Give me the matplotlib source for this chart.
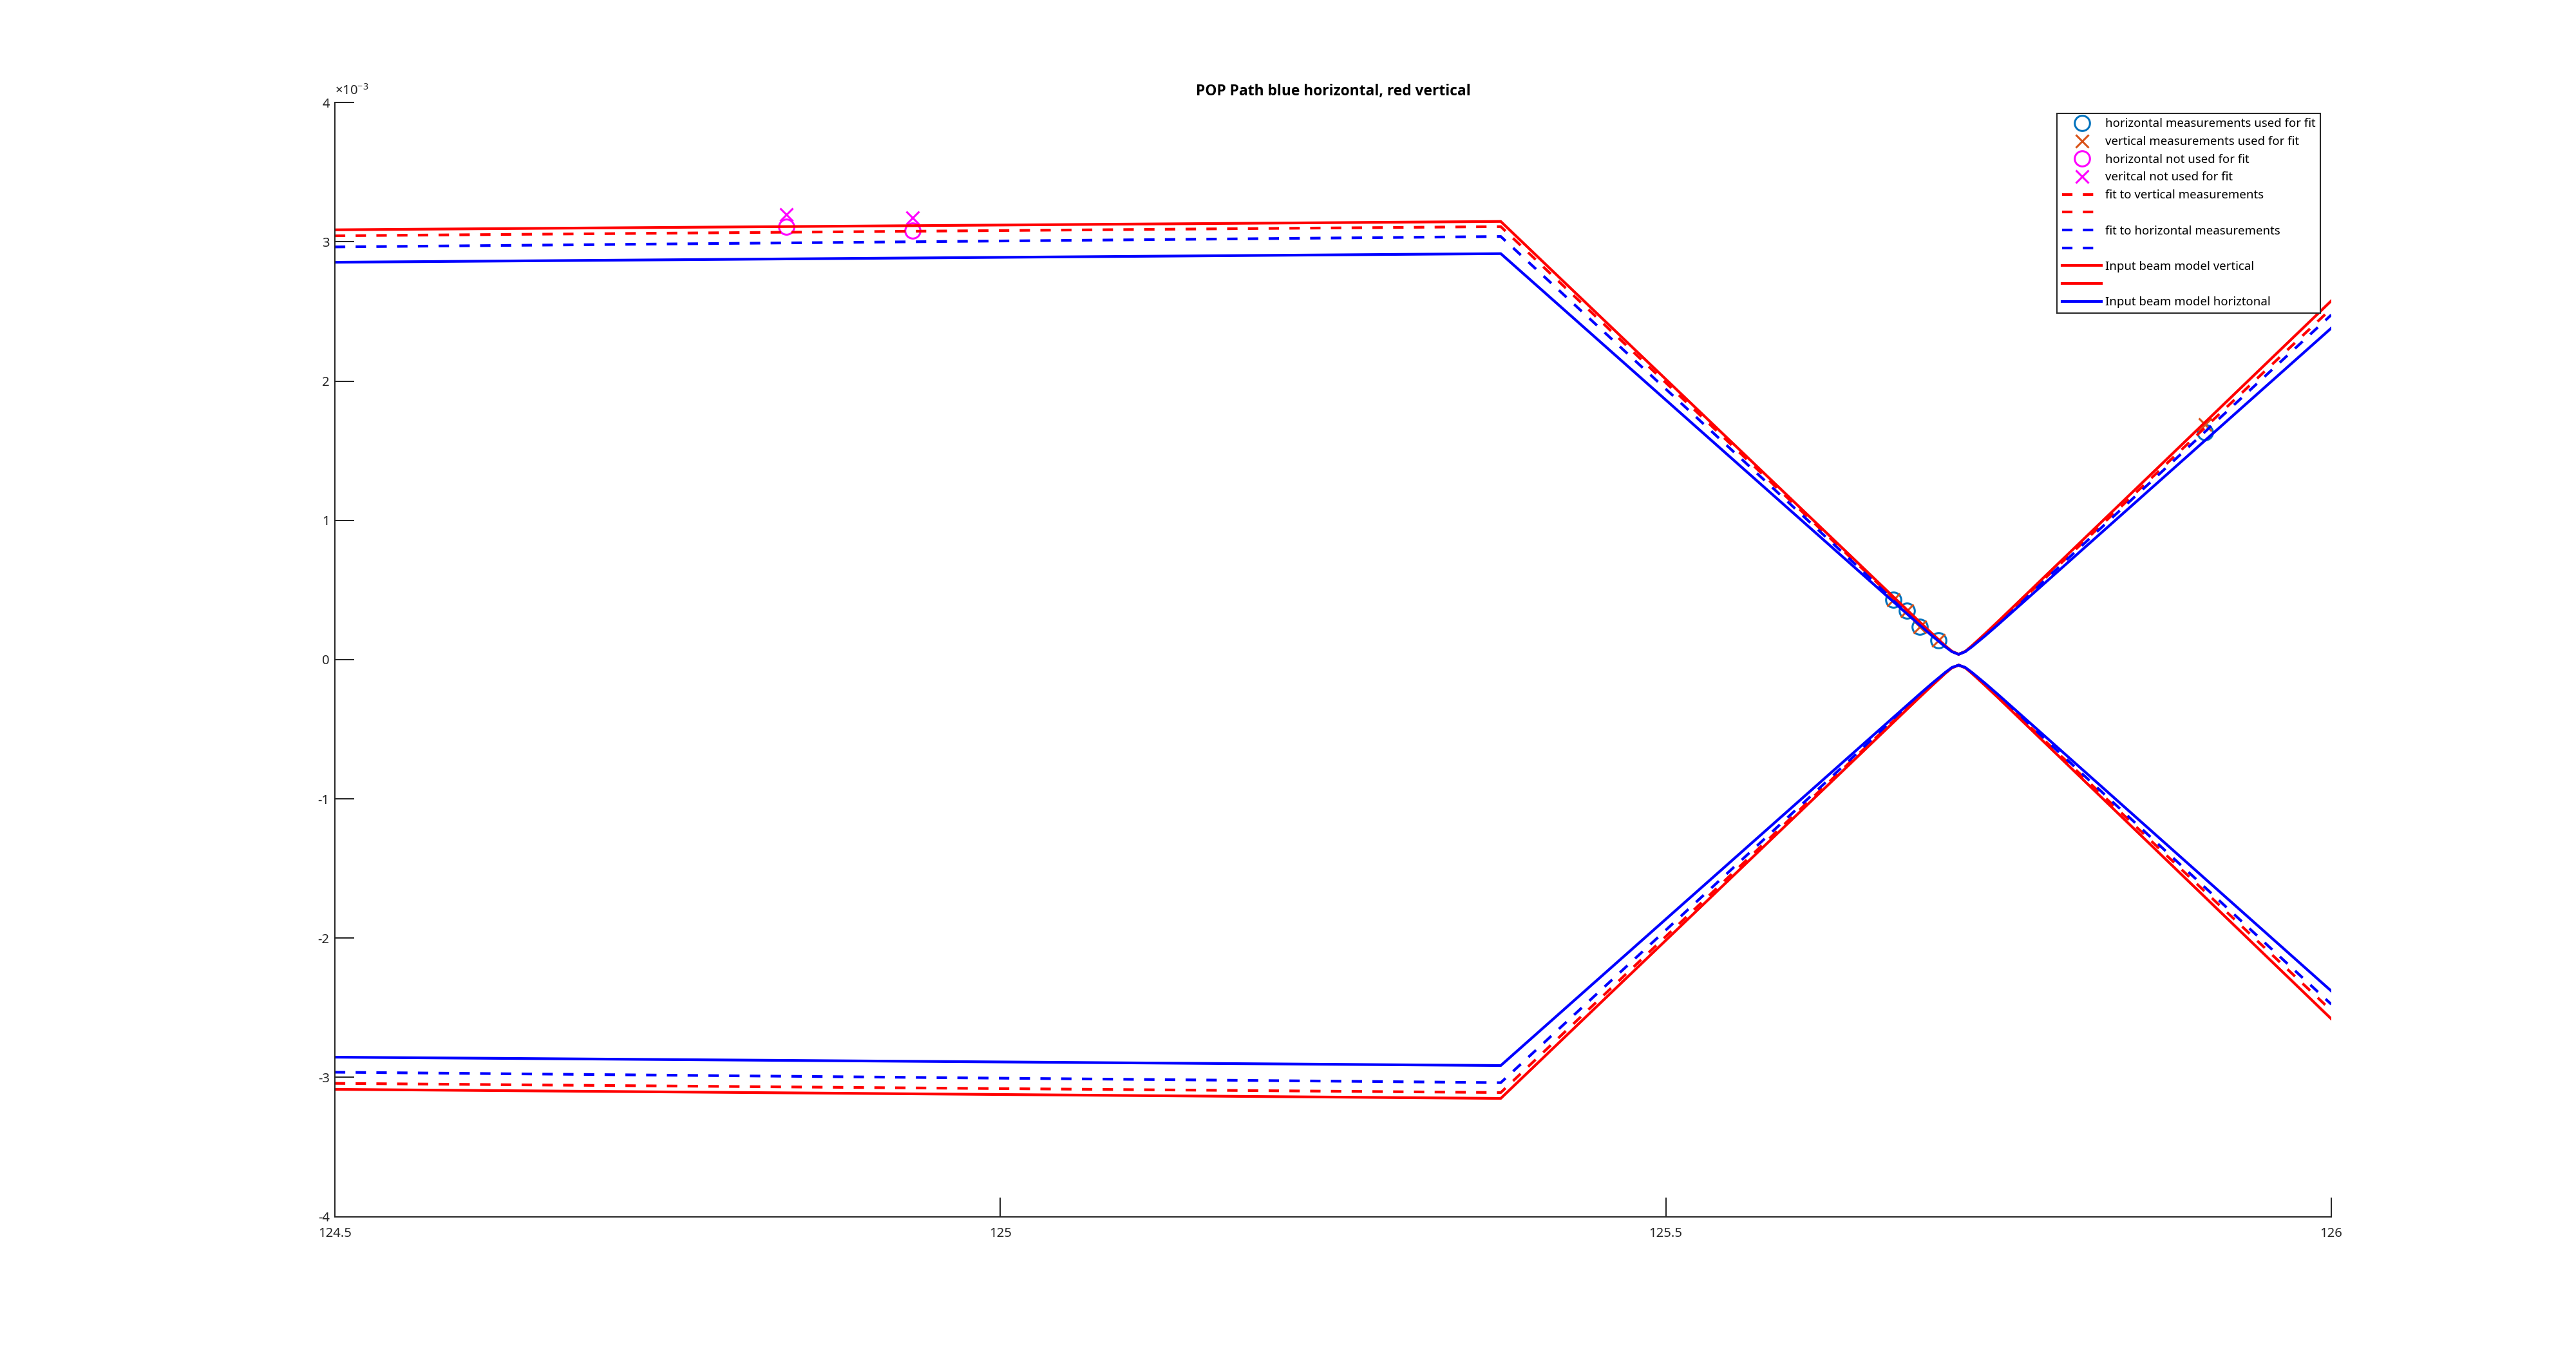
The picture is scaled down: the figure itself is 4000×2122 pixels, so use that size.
import matplotlib
matplotlib.use("Agg")
import matplotlib.pyplot as plt

plt.rcParams['font.family'] = ['Noto Sans', 'DejaVu Sans']
plt.rcParams['mathtext.fontset'] = 'custom'
plt.rcParams['mathtext.rm'] = 'Noto Sans'
plt.rcParams['lines.scale_dashes'] = False

# ---------------------------------------------------------------
# data (y values in units of 1e-3)
# ---------------------------------------------------------------
z = [124.5, 125.376, 125.69, 125.70, 125.71, 125.715, 125.72,
     125.725, 125.73, 125.74, 125.75, 126.0]

fit_vert_up = [3.043, 3.109, 0.270, 0.182, 0.097, 0.0585, 0.038,
               0.0585, 0.097, 0.182, 0.270, 2.520]
fit_vert_lo = [-3.043, -3.109, -0.270, -0.182, -0.097, -0.0585, -0.040,
               -0.0585, -0.097, -0.182, -0.270, -2.520]
fit_hor_up = [2.963, 3.038, 0.264, 0.178, 0.095, 0.0578, 0.038,
              0.0578, 0.095, 0.178, 0.264, 2.475]
fit_hor_lo = [-2.963, -3.038, -0.264, -0.178, -0.095, -0.0578, -0.040,
              -0.0578, -0.095, -0.178, -0.264, -2.475]
model_vert_up = [3.086, 3.146, 0.277, 0.187, 0.099, 0.0594, 0.038,
                 0.0594, 0.099, 0.187, 0.277, 2.576]
model_vert_lo = [-3.086, -3.151, -0.277, -0.187, -0.099, -0.0594, -0.040,
                 -0.0594, -0.099, -0.187, -0.277, -2.580]
model_hor_up = [2.853, 2.915, 0.254, 0.171, 0.092, 0.0565, 0.038,
                0.0565, 0.092, 0.171, 0.254, 2.380]
model_hor_lo = [-2.855, -2.915, -0.254, -0.171, -0.092, -0.0565, -0.040,
                -0.0565, -0.092, -0.171, -0.254, -2.380]

# measurements
hor_used_z = [125.671, 125.681, 125.691, 125.705, 125.905]
hor_used_w = [0.430, 0.351, 0.236, 0.139, 1.632]
vert_used_z = [125.671, 125.681, 125.691, 125.705, 125.905]
vert_used_w = [0.430, 0.351, 0.236, 0.139, 1.688]
hor_unused_z = [124.839, 124.934]
hor_unused_w = [3.109, 3.081]
vert_unused_z = [124.839, 124.934]
vert_unused_w = [3.197, 3.174]

# ---------------------------------------------------------------
# figure
# ---------------------------------------------------------------
fig = plt.figure(figsize=(20, 10.61), dpi=200, facecolor='white')
ax = fig.add_axes([0.13, 0.11, 0.775, 0.815])

c_blue_m = '#0072BD'
c_orange = '#D95319'
c_mag = '#FF00FF'

h1, = ax.plot(hor_used_z, hor_used_w, 'o', ms=8.5, mfc='none', mec=c_blue_m, mew=1.1, zorder=1)
h2, = ax.plot(vert_used_z, vert_used_w, 'x', ms=7.5, color=c_orange, mew=1.1, zorder=1)
h3, = ax.plot(hor_unused_z, hor_unused_w, 'o', ms=8.5, mfc='none', mec=c_mag, mew=1.1, zorder=1)
h4, = ax.plot(vert_unused_z, vert_unused_w, 'x', ms=7.5, color=c_mag, mew=1.1, zorder=1)

lw = 1.5
dash = (5.8, 5.8)
h5, = ax.plot(z, fit_vert_up, color='#FF0000', lw=lw, dashes=dash)
h6, = ax.plot(z, fit_vert_lo, color='#FF0000', lw=lw, dashes=dash)
h7, = ax.plot(z, fit_hor_up, color='#0000FF', lw=lw, dashes=dash)
h8, = ax.plot(z, fit_hor_lo, color='#0000FF', lw=lw, dashes=dash)
h9, = ax.plot(z, model_vert_up, color='#FF0000', lw=lw)
h10, = ax.plot(z, model_vert_lo, color='#FF0000', lw=lw)
h11, = ax.plot(z, model_hor_up, color='#0000FF', lw=lw)
ax.plot(z, model_hor_lo, color='#0000FF', lw=lw)

ax.set_xlim(124.5, 126)
ax.set_ylim(-4, 4)
ax.set_xticks([124.5, 125, 125.5, 126])
ax.set_xticklabels(['124.5', '125', '125.5', '126'])
ax.set_yticks(range(-4, 5))
ax.set_yticklabels([str(v) for v in range(-4, 5)])

for s in ['top', 'right']:
    ax.spines[s].set_visible(False)
for s in ['left', 'bottom']:
    ax.spines[s].set_color('#262626')
    ax.spines[s].set_linewidth(0.72)
ax.tick_params(axis='both', direction='in', length=10.8, width=0.72,
               color='#262626', labelcolor='#262626', labelsize=7.3)
ax.tick_params(axis='x', pad=6.0)
ax.tick_params(axis='y', pad=3.0)

ax.text(0.0, 1.004, r'$\times\mathregular{10^{-3}}$', transform=ax.transAxes,
        ha='left', va='bottom', fontsize=7.3, color='#262626')

ax.set_title('POP Path blue horizontal, red vertical', fontsize=8.2,
             fontweight='bold', family=['Open Sans', 'DejaVu Sans'], pad=4)

handles = [h1, h2, h3, h4, h5, h6, h7, h8, h9, h10, h11]
labels = ['horizontal measurements used for fit',
          'vertical measurements used for fit',
          'horizontal not used for fit',
          'veritcal not used for fit',
          'fit to vertical measurements', '',
          'fit to horizontal measurements', '',
          'Input beam model vertical', '',
          'Input beam model horiztonal']
leg = ax.legend(handles, labels, loc='upper right',
                bbox_to_anchor=(3603 / 4000, 1 - 176 / 2122),
                bbox_transform=fig.transFigure, borderaxespad=0,
                fontsize=6.7, numpoints=1, handlelength=3.3,
                handletextpad=0.3, labelspacing=0.52, borderpad=0.4,
                fancybox=False, framealpha=1, edgecolor='#262626')
leg.get_frame().set_linewidth(0.72)
for t in leg.get_texts():
    t.set_color('#000000')

fig.savefig('out.png', dpi=200, facecolor='white')
